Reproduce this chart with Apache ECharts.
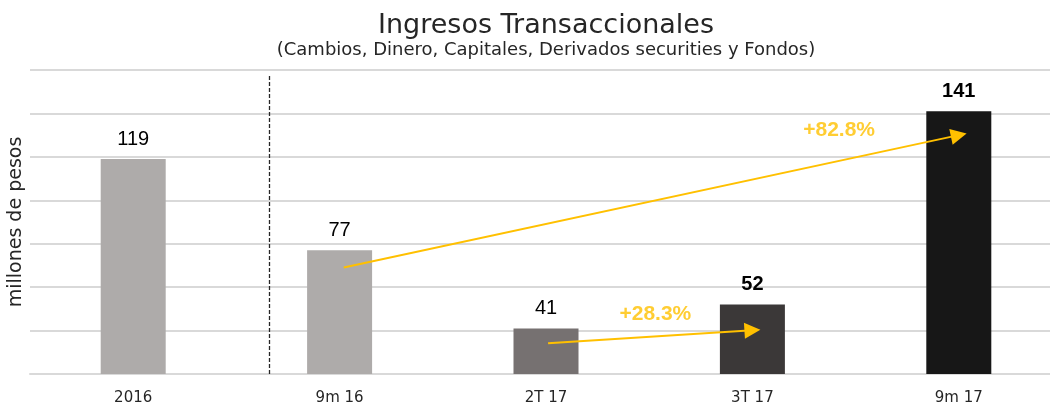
<!DOCTYPE html>
<html>
<head>
<meta charset="utf-8">
<script src="https://cdn.jsdelivr.net/npm/echarts@6/dist/echarts.min.js"></script>
<style>
  html, body { margin: 0; padding: 0; background: #fff; }
  #container { width: 1050px; height: 406px; }
</style>
</head>
<body>
<div id="container"></div>
<script>
// datos
var categorias = ['2016', '9m 16', '2T 17', '3T 17', '9m 17'];
var ingresos = [119, 77, 41, 52, 141];
var crecimientos = ['+82.8%', '+28.3%'];
var ejeTicks = [20, 160, 20]; // min, max, intervalo

// anotaciones (en unidades de datos: indice de categoria, millones)
var flechas = [
    [[1.02, 69], [4.0, 130]],
    [[2.01, 34.2], [3.0, 40.2]]
];
var etiquetasCrec = [[3.42, 132.4], [2.53, 47.5]];
var separador = [[0.661, 20], [0.661, 157.6]];

// estilos
var coloresBarras = ['#AEABAA', '#AEABAA', '#767171', '#3B3838', '#171717'];
var negritas = [false, false, false, true, true];
var amarillo = '#FFC000';
var fuente = 'DejaVu Sans';

var chart = echarts.init(document.getElementById('container'), null, { renderer: 'canvas' });

var option = {
    animation: false,
    textStyle: { fontFamily: fuente },
    title: {
        text: 'Ingresos Transaccionales',
        subtext: '(Cambios, Dinero, Capitales, Derivados securities y Fondos)',
        left: 541,
        textAlign: 'center',
        top: 7,
        itemGap: 2,
        textStyle: { fontSize: 27, fontWeight: 'normal', color: '#262626', fontFamily: fuente },
        subtextStyle: { fontSize: 18, color: '#262626', fontFamily: fuente }
    },
    grid: { left: 30, width: 1032, top: 70, bottom: 32, outerBoundsMode: 'none' },
    xAxis: [
        {
            type: 'category',
            data: categorias,
            axisTick: { show: false },
            axisLine: { lineStyle: { color: '#D9D9D9', width: 2 } },
            axisLabel: { color: '#262626', fontSize: 15, margin: 17 }
        },
        {
            type: 'value',
            min: -0.5,
            max: 4.5,
            show: false
        }
    ],
    yAxis: {
        type: 'value',
        min: ejeTicks[0],
        max: ejeTicks[1],
        interval: ejeTicks[2],
        name: 'millones de pesos',
        nameLocation: 'middle',
        nameGap: 4,
        nameTextStyle: { fontSize: 19, color: '#262626' },
        axisLine: { show: false },
        axisTick: { show: false },
        axisLabel: { show: false },
        splitLine: { lineStyle: { color: '#D9D9D9', width: 2 } }
    },
    series: [
        {
            type: 'bar',
            barWidth: 65,
            silent: true,
            z: 2,
            data: ingresos.map(function (v, i) {
                return {
                    value: v,
                    itemStyle: { color: coloresBarras[i] },
                    label: { fontWeight: negritas[i] ? 'bold' : 'normal' }
                };
            }),
            label: {
                show: true,
                position: 'top',
                distance: 10,
                fontSize: 20,
                fontFamily: 'Liberation Sans',
                color: '#000'
            }
        },
        {
            type: 'lines',
            coordinateSystem: 'cartesian2d',
            xAxisIndex: 1,
            yAxisIndex: 0,
            silent: true,
            z: 5,
            symbol: ['none', 'none'],
            lineStyle: { color: '#262626', width: 1.3, type: [4, 2], opacity: 1 },
            data: [{ coords: separador }]
        },
        {
            type: 'lines',
            coordinateSystem: 'cartesian2d',
            xAxisIndex: 1,
            yAxisIndex: 0,
            silent: true,
            z: 10,
            symbol: ['none', 'triangle'],
            symbolSize: [16, 16],
            lineStyle: { color: amarillo, width: 2, opacity: 1 },
            data: flechas.map(function (f) { return { coords: f }; })
        },
        {
            type: 'scatter',
            xAxisIndex: 1,
            yAxisIndex: 0,
            silent: true,
            z: 10,
            symbolSize: 0,
            data: etiquetasCrec.map(function (p, i) {
                return { name: crecimientos[i], value: p };
            }),
            label: {
                show: true,
                position: 'inside',
                formatter: '{b}',
                fontSize: 21,
                fontFamily: 'Liberation Sans',
                fontWeight: 'bold',
                color: amarillo
            }
        }
    ]
};

chart.setOption(option);
</script>
</body>
</html>
